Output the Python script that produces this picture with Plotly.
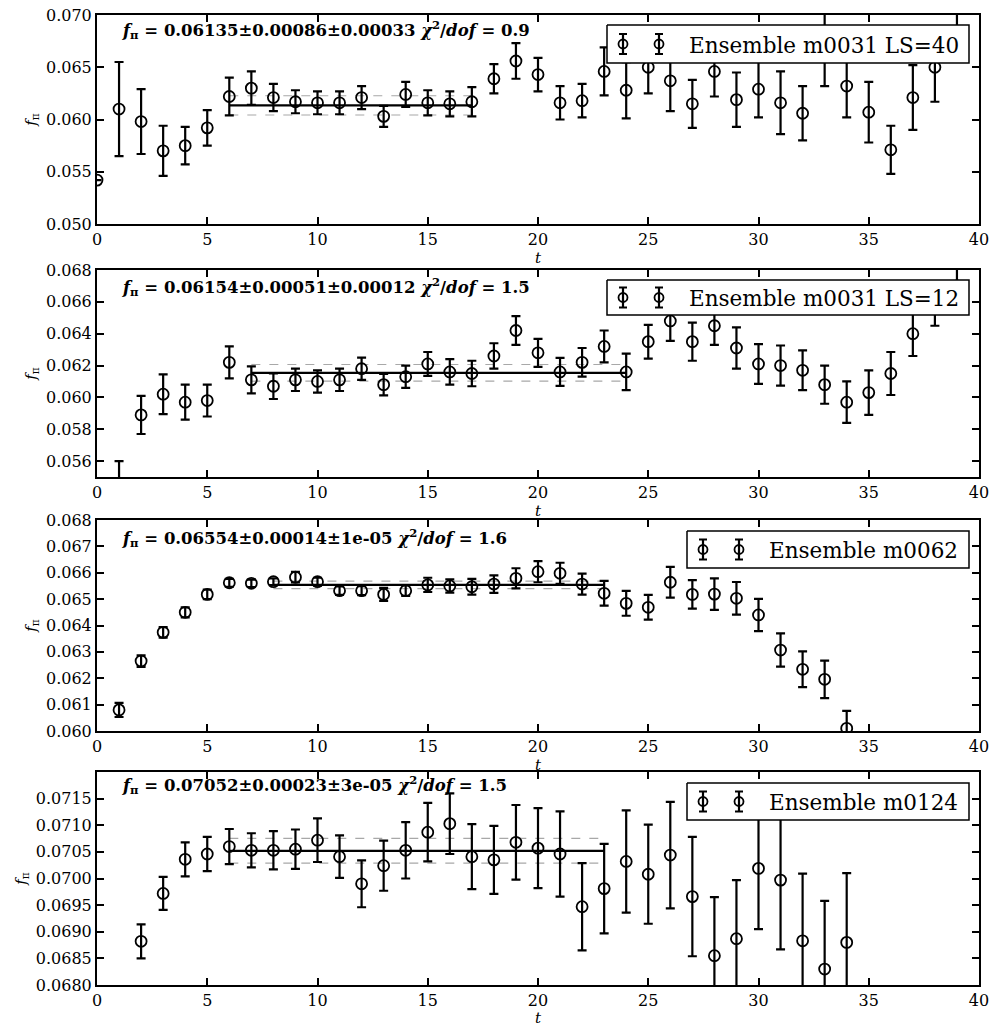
import plotly.graph_objects as go

FONT = "DejaVu Serif"

# ---------------- data ----------------
# Panel 1: Ensemble m0031 LS=40
t1 = list(range(0, 40))
f1 = [0.0542, 0.0610, 0.0598, 0.0570, 0.0575, 0.0592, 0.0622, 0.0630, 0.0621, 0.0617,
      0.0616, 0.0616, 0.0621, 0.0603, 0.0624, 0.0616, 0.0615, 0.0617, 0.0639, 0.0656,
      0.0643, 0.0616, 0.0618, 0.0646, 0.0628, 0.0650, 0.0637, 0.0615, 0.0646, 0.0619,
      0.0629, 0.0616, 0.0606, 0.0670, 0.0632, 0.0607, 0.0571, 0.0621, 0.0650, 0.0680]
e1 = [0.0000, 0.0045, 0.0031, 0.0024, 0.0018, 0.0017, 0.0018, 0.0016, 0.0013, 0.0011,
      0.0011, 0.0011, 0.0011, 0.0010, 0.0012, 0.0012, 0.0012, 0.0014, 0.0014, 0.0017,
      0.0016, 0.0016, 0.0016, 0.0023, 0.0027, 0.0025, 0.0029, 0.0023, 0.0024, 0.0026,
      0.0027, 0.0030, 0.0026, 0.0038, 0.0030, 0.0029, 0.0023, 0.0031, 0.0033, 0.0022]

# Panel 2: Ensemble m0031 LS=12
t2 = list(range(1, 40))
f2 = [0.0545, 0.0589, 0.0602, 0.0597, 0.0598, 0.0622, 0.0611, 0.0607, 0.0611, 0.0610,
      0.0611, 0.0618, 0.0608, 0.0613, 0.0621, 0.0616, 0.0615, 0.0626, 0.0642, 0.0628,
      0.0616, 0.0622, 0.0632, 0.0616, 0.0635, 0.0648, 0.0635, 0.0645, 0.0631, 0.0621,
      0.0620, 0.0617, 0.0608, 0.0597, 0.0603, 0.0615, 0.0640, 0.0659, 0.0670]
e2 = [0.0015, 0.0012, 0.00125, 0.0011, 0.0010, 0.0010, 0.00085, 0.0008, 0.0007, 0.0007,
      0.0007, 0.0007, 0.00068, 0.0007, 0.00075, 0.0008, 0.0008, 0.0008, 0.0009, 0.00088,
      0.00088, 0.0009, 0.0010, 0.00115, 0.00106, 0.00125, 0.0012, 0.0012, 0.0013, 0.00125,
      0.00126, 0.00125, 0.0012, 0.0013, 0.0014, 0.00135, 0.0014, 0.0014, 0.0014]

# Panel 3: Ensemble m0062
t3 = list(range(1, 35))
f3 = [0.06080, 0.06265, 0.06374, 0.06450, 0.06518, 0.06562, 0.06560, 0.06566, 0.06583, 0.06566,
      0.06532, 0.06532, 0.06518, 0.06532, 0.06554, 0.06550, 0.06547, 0.06557, 0.06579, 0.06604,
      0.06598, 0.06557, 0.06522, 0.06484, 0.06469, 0.06564, 0.06518, 0.06519, 0.06503, 0.06440,
      0.06307, 0.06234, 0.06196, 0.06010]
e3 = [0.00027, 0.00022, 0.00020, 0.00019, 0.00018, 0.00015, 0.00014, 0.00013, 0.00020, 0.00015,
      0.00016, 0.00017, 0.00025, 0.00020, 0.00027, 0.00025, 0.00030, 0.00033, 0.00038, 0.00040,
      0.00040, 0.00040, 0.00047, 0.00047, 0.00047, 0.00058, 0.00054, 0.00060, 0.00062, 0.00061,
      0.00063, 0.00068, 0.00071, 0.00066]

# Panel 4: Ensemble m0124
t4 = list(range(2, 35))
f4 = [0.06882, 0.06972, 0.07036, 0.07046, 0.07060, 0.07053, 0.07053, 0.07055, 0.07072, 0.07041,
      0.06990, 0.07024, 0.07053, 0.07087, 0.07103, 0.07041, 0.07035, 0.07068, 0.07057, 0.07046,
      0.06947, 0.06981, 0.07032, 0.07008, 0.07044, 0.06966, 0.06855, 0.06887, 0.07019, 0.06997,
      0.06883, 0.06830, 0.06880]
e4 = [0.00032, 0.00031, 0.00032, 0.00032, 0.00033, 0.00032, 0.00036, 0.00037, 0.00041, 0.00040,
      0.00044, 0.00047, 0.00053, 0.00055, 0.00057, 0.00061, 0.00064, 0.00070, 0.00075, 0.00080,
      0.00082, 0.00084, 0.00096, 0.00093, 0.00100, 0.00112, 0.00110, 0.00110, 0.00114, 0.00130,
      0.00126, 0.00128, 0.00130]

names = ["Ensemble m0031 LS=40", "Ensemble m0031 LS=12", "Ensemble m0062", "Ensemble m0124"]
fit_val = [0.06135, 0.06154, 0.06554, 0.07052]
fit_stat = [0.00086, 0.00051, 0.00014, 0.00023]
fit_sys = [0.00033, 0.00012, 0.00001, 0.00003]
fit_err_txt = [("0.00086", "0.00033"), ("0.00051", "0.00012"), ("0.00014", "1e-05"), ("0.00023", "3e-05")]
chi2 = ["0.9", "1.5", "1.6", "1.5"]
fit_lo = [6, 7, 8, 6]
fit_hi = [17, 24, 23, 23]

y_ranges = [[0.050, 0.070], [0.055, 0.068], [0.060, 0.068], [0.068, 0.0720]]
y_ticks = [[0.050, 0.055, 0.060, 0.065, 0.070],
           [0.056, 0.058, 0.060, 0.062, 0.064, 0.066, 0.068],
           [0.060, 0.061, 0.062, 0.063, 0.064, 0.065, 0.066, 0.067, 0.068],
           [0.0680, 0.0685, 0.0690, 0.0695, 0.0700, 0.0705, 0.0710, 0.0715]]
y_fmt = [".3f", ".3f", ".3f", ".4f"]
x_ticks = [0, 5, 10, 15, 20, 25, 30, 35, 40]

# ---------------- layout geometry (pixels) ----------------
W, H = 992, 1027
ML, MR, MT, MB = 97, 13, 15, 42
PH = H - MT - MB
PW = W - ML - MR
panel_px = [(15, 224), (270, 477), (520, 731), (772, 985)]


def py(px):
    return 1 - (px - MT) / PH


def pxx(px):
    return (px - ML) / PW


domains = [[py(b), py(t)] for t, b in panel_px]
# legend boxes: (left, top, right, bottom) in page pixels
leg_box = [(607, 25, 969, 63), (607, 280, 969, 315), (687, 531, 969, 568), (687, 783, 969, 820)]
leg_glyph_dx = [16, 52]
leg_text_dx = 80
text_y = [30, 287, 538, 785]

fig = go.Figure()
data = [(t1, f1, e1), (t2, f2, e2), (t3, f3, e3), (t4, f4, e4)]

for i, (tt, ff, ee) in enumerate(data):
    k = "" if i == 0 else str(i + 1)
    xa, ya = "x" + k, "y" + k
    ko = str(i + 5)
    xo, yo = "x" + ko, "y" + ko
    tot = (fit_stat[i] ** 2 + fit_sys[i] ** 2) ** 0.5
    for s in (-1, 1):
        fig.add_trace(go.Scatter(
            x=[fit_lo[i], fit_hi[i]], y=[fit_val[i] + s * tot, fit_val[i] + s * tot],
            mode="lines", line=dict(color="#a8a8a8", width=1.2, dash="dash"),
            xaxis=xa, yaxis=ya, showlegend=False, hoverinfo="skip"))
    fig.add_trace(go.Scatter(
        x=[fit_lo[i], fit_hi[i]], y=[fit_val[i], fit_val[i]],
        mode="lines", line=dict(color="black", width=2.2),
        xaxis=xa, yaxis=ya, showlegend=False, hoverinfo="skip"))
    fig.add_trace(go.Scatter(
        x=tt, y=ff, mode="markers", name=names[i],
        marker=dict(symbol="circle-open", size=11, color="black", line=dict(width=1.8, color="black")),
        error_y=dict(type="data", array=ee, visible=True, color="black", thickness=2.2, width=4.5),
        xaxis=xa, yaxis=ya, showlegend=False))

    # ---- legend drawn on an overlay axis measured in page pixels ----
    L, T, R, B = leg_box[i]
    cy = (T + B) / 2
    fig.add_trace(go.Scatter(
        x=[L, R, R, L, L], y=[T, T, B, B, T], mode="lines", fill="toself",
        fillcolor="white", line=dict(color="black", width=1.5),
        xaxis=xo, yaxis=yo, showlegend=False, hoverinfo="skip"))
    fig.add_trace(go.Scatter(
        x=[L + d for d in leg_glyph_dx], y=[cy, cy], mode="markers",
        marker=dict(symbol="circle-open", size=9, color="black", line=dict(width=1.8, color="black")),
        error_y=dict(type="constant", value=10, visible=True, color="black", thickness=2.2, width=4),
        xaxis=xo, yaxis=yo, showlegend=False, hoverinfo="skip"))
    fig.add_annotation(
        x=L + leg_text_dx, y=cy + 1, xref=xo, yref=yo, xanchor="left", yanchor="middle",
        showarrow=False, text=names[i],
        font=dict(family=FONT, size=21.5, color="black"))

    axfont = dict(family=FONT, size=16, color="black")
    fig.layout["xaxis" + k] = dict(
        domain=[0, 1], anchor=ya, range=[0, 40], tickvals=x_ticks,
        ticks="inside", ticklen=7, tickwidth=1.5, tickcolor="black",
        showline=True, linewidth=2, linecolor="black", mirror="ticks",
        showgrid=False, zeroline=False, tickfont=axfont,
        title=dict(text="<i>t</i>", font=dict(family=FONT, size=15, color="black"), standoff=2))
    fig.layout["yaxis" + k] = dict(
        domain=domains[i], anchor=xa, range=y_ranges[i], tickvals=y_ticks[i], tickformat=y_fmt[i],
        ticks="inside", ticklen=7, tickwidth=1.5, tickcolor="black",
        showline=True, linewidth=2, linecolor="black", mirror="ticks",
        showgrid=False, zeroline=False, tickfont=axfont,
        title=dict(text="<i>f</i><sub>π</sub>", font=dict(family=FONT, size=15, color="black"), standoff=6))
    fig.layout["xaxis" + ko] = dict(
        overlaying=xa, anchor=yo, range=[ML, W - MR], visible=False,
        showgrid=False, zeroline=False)
    fig.layout["yaxis" + ko] = dict(
        overlaying=ya, anchor=xo, range=[panel_px[i][1], panel_px[i][0]], visible=False,
        showgrid=False, zeroline=False)

    fig.add_annotation(
        x=pxx(120), y=py(text_y[i]), xref="paper", yref="paper",
        xanchor="left", yanchor="middle", showarrow=False,
        text=("<b><i>f</i><sub>π</sub> = %.5f±%s±%s <i>χ</i><sup>2</sup>/<i>dof</i> = %s</b>"
              % (fit_val[i], fit_err_txt[i][0], fit_err_txt[i][1], chi2[i])),
        font=dict(family=FONT, size=16.5, color="black"))

fig.update_layout(
    width=W, height=H, margin=dict(l=ML, r=MR, t=MT, b=MB, autoexpand=False),
    paper_bgcolor="white", plot_bgcolor="white", font=dict(family=FONT, color="black"),
    showlegend=False)

fig.write_html("out.html")
